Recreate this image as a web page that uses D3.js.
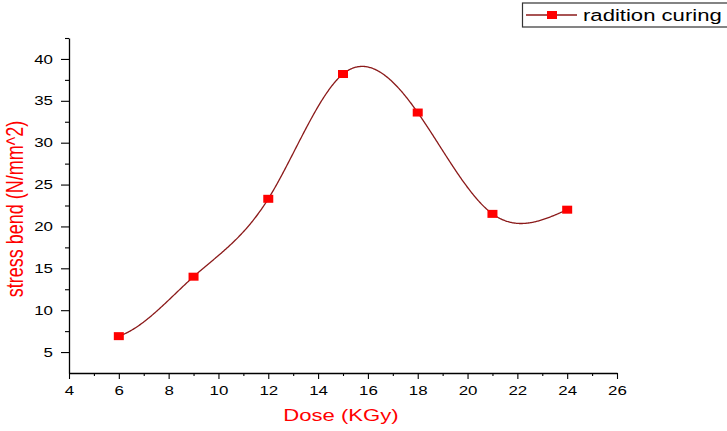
<!DOCTYPE html>
<html><head><meta charset="utf-8">
<script src="https://cdn.jsdelivr.net/npm/d3@7"></script>
<style>body{margin:0;background:#fff}svg{display:block}text{font-family:"Liberation Sans",Arial,sans-serif}</style>
</head><body>
<svg id="c" width="727" height="431"></svg>
<script>
const doses = [6, 9, 12, 15, 18, 21, 24];
const stress = [6.9, 14.0, 23.3, 38.2, 33.6, 21.5, 22.0];
const xTicks = [4, 6, 8, 10, 12, 14, 16, 18, 20, 22, 24, 26];
const yTicks = [5, 10, 15, 20, 25, 30, 35, 40];
const seriesName = "radition curing";
const SX = 1.3;          // horizontal stretch of the reference text
const START_SLOPE = 1.0; // spline end condition at the first point

const svg = d3.select("#c");
const x = d3.scaleLinear().domain([4, 26]).range([69, 617]);
const y = d3.scaleLinear().domain([2.5, 42.5]).range([373, 38]);

// axes
const xAxis = d3.axisBottom(x).tickValues(xTicks).tickSize(6).tickSizeOuter(0).tickPadding(4);
const gx = svg.append("g").attr("transform", "translate(0,373)").call(xAxis);
const xMinor = d3.axisBottom(x).tickValues(d3.range(5, 26, 2)).tickSize(3).tickFormat("");
svg.append("g").attr("transform", "translate(0,373)").call(xMinor).select(".domain").remove();

const yAxis = d3.axisLeft(y).tickValues(yTicks).tickSize(8).tickSizeOuter(0).tickPadding(8);
const gy = svg.append("g").attr("transform", "translate(69,0)").call(yAxis);
const yMinor = d3.axisLeft(y).tickValues([7.5, 12.5, 17.5, 22.5, 27.5, 32.5, 37.5, 42.5]).tickSize(4).tickFormat("");
svg.append("g").attr("transform", "translate(69,0)").call(yMinor).select(".domain").remove();

svg.selectAll(".domain").attr("stroke", "#000").attr("stroke-width", 1.3);
svg.selectAll(".tick line").attr("stroke", "#000").attr("stroke-width", 1.1);
svg.selectAll(".tick text").attr("font-size", 13).attr("fill", "#000").attr("font-family", "Liberation Sans, Arial, sans-serif");
gx.selectAll(".tick text").attr("transform", `scale(${SX},1)`).attr("dy", null).attr("y", 22);
gy.selectAll(".tick text").attr("transform", `scale(${SX},1)`).attr("x", -16 / SX);

// titles
svg.append("text").attr("transform", `translate(341,421) scale(${SX},1)`).attr("text-anchor", "middle")
  .attr("font-size", 17).attr("fill", "#ff0000").text("Dose (KGy)");
svg.append("text").attr("transform", `translate(23,209) rotate(-90) scale(1,${SX})`).attr("text-anchor", "middle")
  .attr("font-size", 18).attr("fill", "#ff0000").text("stress bend (N/mm^2)");

// cubic spline: clamped slope at the first point, natural at the last
function spline(xs, ys, s0) {
  const n = xs.length - 1;
  const h = d3.range(n).map(i => xs[i + 1] - xs[i]);
  const a = new Array(n + 1).fill(0), b = new Array(n + 1).fill(0),
        c = new Array(n + 1).fill(0), r = new Array(n + 1).fill(0);
  b[0] = 2 * h[0]; c[0] = h[0]; r[0] = 6 * ((ys[1] - ys[0]) / h[0] - s0);
  for (let i = 1; i < n; i++) {
    a[i] = h[i - 1]; b[i] = 2 * (h[i - 1] + h[i]); c[i] = h[i];
    r[i] = 6 * ((ys[i + 1] - ys[i]) / h[i] - (ys[i] - ys[i - 1]) / h[i - 1]);
  }
  b[n] = 1; r[n] = 0;
  const cp = [], dp = [];
  for (let i = 0; i <= n; i++) {
    const den = b[i] - (i ? a[i] * cp[i - 1] : 0);
    cp[i] = c[i] / den;
    dp[i] = (r[i] - (i ? a[i] * dp[i - 1] : 0)) / den;
  }
  const M = new Array(n + 1).fill(0);
  M[n] = dp[n];
  for (let i = n - 1; i >= 0; i--) M[i] = dp[i] - cp[i] * M[i + 1];
  return t => {
    const i = Math.min(n - 1, Math.max(0, d3.bisectRight(xs, t) - 1));
    const hi = h[i], u = xs[i + 1] - t, v = t - xs[i];
    return M[i] * u * u * u / (6 * hi) + M[i + 1] * v * v * v / (6 * hi)
      + (ys[i] / hi - M[i] * hi / 6) * u + (ys[i + 1] / hi - M[i + 1] * hi / 6) * v;
  };
}
const f = spline(doses, stress, START_SLOPE);
const x0 = doses[0], x1 = doses[doses.length - 1];
const curvePts = d3.range(0, 601).map(k => { const t = x0 + (x1 - x0) * k / 600; return {x: t, y: f(t)}; });

const line = d3.line().x(d => x(d.x)).y(d => y(d.y));
svg.append("path").datum(curvePts).attr("d", line).attr("fill", "none")
  .attr("stroke", "#8b1a1a").attr("stroke-width", 1.3);

const data = doses.map((d, i) => ({x: d, y: stress[i]}));
svg.selectAll("rect.m").data(data).enter().append("rect").attr("class", "m")
  .attr("x", d => x(d.x) - 5).attr("y", d => y(d.y) - 4)
  .attr("width", 10).attr("height", 8).attr("fill", "#ff0000");

// legend
const lg = svg.append("g");
lg.append("rect").attr("x", 522.5).attr("y", 3).attr("width", 220).attr("height", 24)
  .attr("fill", "#fff").attr("stroke", "#333").attr("stroke-width", 1.2);
lg.append("line").attr("x1", 526).attr("x2", 577).attr("y1", 15).attr("y2", 15)
  .attr("stroke", "#8b1a1a").attr("stroke-width", 1.3);
lg.append("rect").attr("x", 547).attr("y", 11).attr("width", 10).attr("height", 8).attr("fill", "#ff0000");
lg.append("text").attr("transform", `translate(583,21) scale(${SX},1)`).attr("font-size", 17).attr("fill", "#000").text(seriesName);
</script>
</body></html>
